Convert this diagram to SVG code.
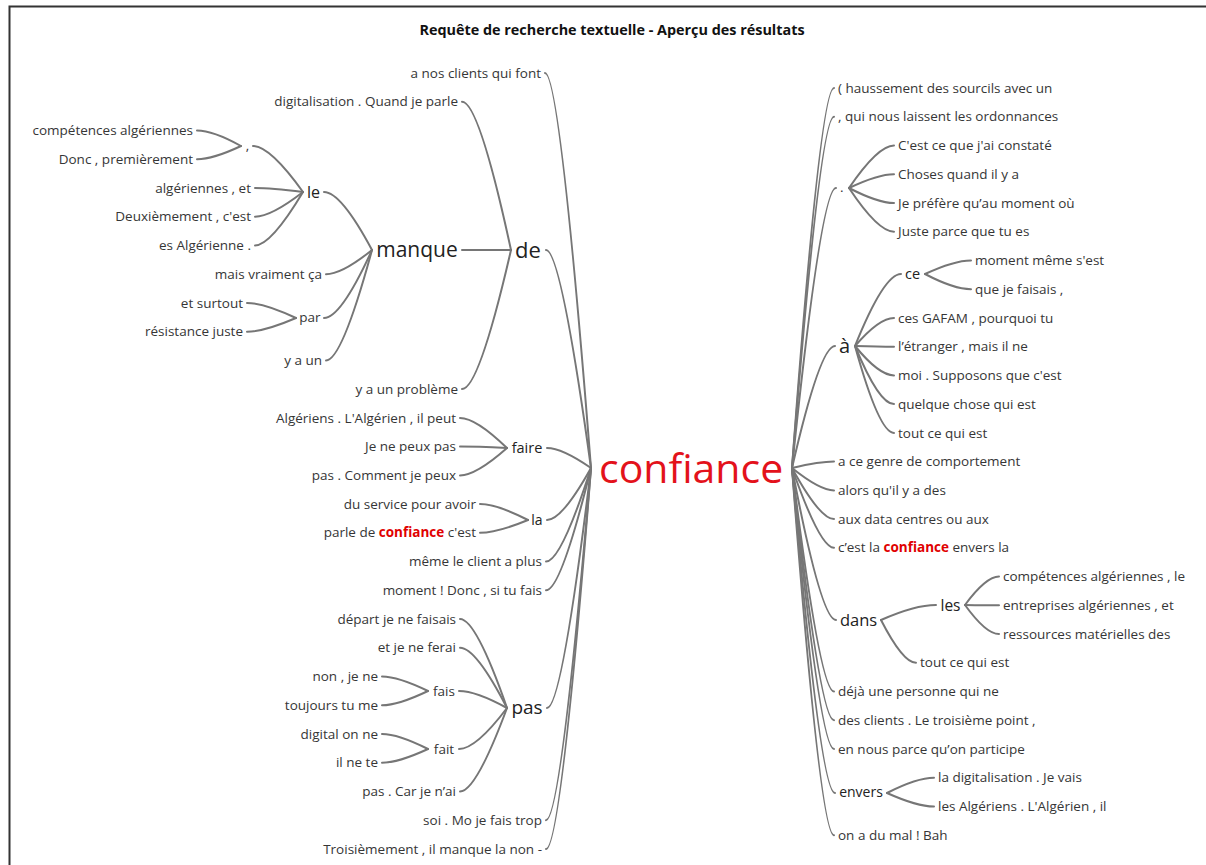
<svg xmlns="http://www.w3.org/2000/svg" width="1206" height="865" viewBox="0 0 1206 865">
<style>
text{font-family:"Open Sans","Noto Sans","Liberation Sans",sans-serif;fill:#363636}
.t{font-size:13.5px}
.e{text-anchor:end}
.m{text-anchor:middle}
.hl{fill:#e00000;font-weight:bold}
.n{fill:#222}
.root{fill:#e3121b;font-size:41px}
.title{font-size:14.4px;font-weight:bold;fill:#111;text-anchor:middle}
#connectors path{fill:none;stroke:#767676;stroke-width:2;stroke-linecap:round}
</style>
<rect width="1206" height="865" fill="#fff"/>
<path d="M9.5,865 V6.5 H1206" fill="none" stroke="#333" stroke-width="2"/>
<text class="title" x="612" y="35">Requête de recherche textuelle - Aperçu des résultats</text>
<g id="connectors">
<path d="M545,73 Q560,73 591,468"/>
<path d="M546,250 Q561,250 591,468"/>
<path d="M547,448 Q562,448 591,468"/>
<path d="M547,520 Q562,520 591,468"/>
<path d="M546,561.6 Q561,561.6 591,468"/>
<path d="M546,590.3 Q561,590.3 591,468"/>
<path d="M547,708 Q562,708 591,468"/>
<path d="M546,820.2 Q561,820.2 591,468"/>
<path d="M546,849 Q561,849 591,468"/>
<path d="M462,101.7 Q479,101.7 511,250"/>
<path d="M462,250 L511,250"/>
<path d="M462,389.1 Q479,389.1 511,250"/>
<path d="M324,192 Q341,192 372,250"/>
<path d="M326,274.2 Q342,274.2 372,250"/>
<path d="M324,318 Q341,318 372,250"/>
<path d="M326,360.4 Q342,360.4 372,250"/>
<path d="M253,146 Q270,146 303,192"/>
<path d="M255,188 Q271,188 303,192"/>
<path d="M255,216.7 Q271,216.7 303,192"/>
<path d="M255,245.4 Q271,245.4 303,192"/>
<path d="M197,130.5 Q213,130.5 241,146"/>
<path d="M197,159.2 Q213,159.2 241,146"/>
<path d="M247,302.9 Q264,302.9 296,318"/>
<path d="M247,331.7 Q264,331.7 296,318"/>
<path d="M460,417.9 Q476,417.9 507,448"/>
<path d="M460,446.6 Q476,446.6 507,448"/>
<path d="M460,475.4 Q476,475.4 507,448"/>
<path d="M480,504.1 Q497,504.1 528,520"/>
<path d="M480,532.8 Q497,532.8 528,520"/>
<path d="M460,619.1 Q476,619.1 507,708"/>
<path d="M460,647.8 Q476,647.8 507,708"/>
<path d="M459,691 Q476,691 507,708"/>
<path d="M459,749 Q476,749 507,708"/>
<path d="M460,791.5 Q476,791.5 507,708"/>
<path d="M382,676.5 Q398,676.5 428,691"/>
<path d="M382,705.3 Q398,705.3 428,691"/>
<path d="M382,734 Q398,734 428,749"/>
<path d="M382,762.8 Q398,762.8 428,749"/>
<path d="M834,88 Q820,88 792,468"/>
<path d="M834,116.7 Q820,116.7 792,468"/>
<path d="M836,188 Q821,188 792,468"/>
<path d="M835,346 Q820,346 792,468"/>
<path d="M834,461.6 Q820,461.6 792,468"/>
<path d="M834,490.4 Q820,490.4 792,468"/>
<path d="M834,519.1 Q820,519.1 792,468"/>
<path d="M834,547.8 Q820,547.8 792,468"/>
<path d="M836,620 Q821,620 792,468"/>
<path d="M834,691.5 Q820,691.5 792,468"/>
<path d="M834,720.3 Q820,720.3 792,468"/>
<path d="M834,749 Q820,749 792,468"/>
<path d="M835,793 Q820,793 792,468"/>
<path d="M834,835.2 Q820,835.2 792,468"/>
<path d="M894,145.5 Q878,145.5 849,188"/>
<path d="M894,174.2 Q878,174.2 849,188"/>
<path d="M894,203 Q878,203 849,188"/>
<path d="M894,231.7 Q878,231.7 849,188"/>
<path d="M901,274 Q884,274 855,346"/>
<path d="M894,317.9 Q879,317.9 855,346"/>
<path d="M894,346.7 Q879,346.7 855,346"/>
<path d="M894,375.4 Q879,375.4 855,346"/>
<path d="M894,404.1 Q879,404.1 855,346"/>
<path d="M894,432.9 Q879,432.9 855,346"/>
<path d="M971,260.4 Q954,260.4 925,274"/>
<path d="M971,289.2 Q954,289.2 925,274"/>
<path d="M936,605 Q915,605 881,620"/>
<path d="M916,662.8 Q903,662.8 881,620"/>
<path d="M999,576.6 Q986,576.6 965,605"/>
<path d="M999,605.3 Q986,605.3 965,605"/>
<path d="M999,634.1 Q986,634.1 965,605"/>
<path d="M934,777.8 Q917,777.8 887,793"/>
<path d="M934,806.5 Q917,806.5 887,793"/>
</g>
<g id="n-confiance"><text class="root" x="599" y="483">confiance</text></g>
<g id="n-de"><text class="n m" x="528" y="258" font-size="22">de</text></g>
<g id="n-manque"><text class="n m" x="417" y="257" font-size="21">manque</text></g>
<g id="n-le"><text class="n m" x="313.5" y="198" font-size="16">le</text></g>
<g id="n-comma"><text class="t m" x="247.5" y="150">,</text></g>
<g id="n-par"><text class="t m" x="310" y="322">par</text></g>
<g id="n-faire"><text class="n m" x="527" y="453" font-size="14.5">faire</text></g>
<g id="n-la"><text class="n m" x="537" y="525" font-size="14">la</text></g>
<g id="n-pas"><text class="n m" x="527" y="714" font-size="19">pas</text></g>
<g id="n-fais"><text class="t m" x="444" y="696">fais</text></g>
<g id="n-fait"><text class="t m" x="444" y="754">fait</text></g>
<g id="n-dot"><text class="t" x="840" y="192">.</text></g>
<g id="n-a"><text class="n m" x="844.5" y="353" font-size="20">à</text></g>
<g id="n-ce"><text class="n m" x="912.5" y="279" font-size="14.5">ce</text></g>
<g id="n-dans"><text class="n m" x="858.5" y="626" font-size="16.5">dans</text></g>
<g id="n-les"><text class="n m" x="950.5" y="611" font-size="15.5">les</text></g>
<g id="n-envers"><text class="n m" x="861" y="797" font-size="14">envers</text></g>
<g id="left-leaves">
<g id="l0"><text class="t e" x="541" y="77.6">a nos clients qui font</text></g>
<g id="l1"><text class="t e" x="458" y="106.3">digitalisation . Quand je parle</text></g>
<g id="l2"><text class="t e" x="193" y="135.1">compétences algériennes</text></g>
<g id="l3"><text class="t e" x="193" y="163.8">Donc , premièrement</text></g>
<g id="l4"><text class="t e" x="251" y="192.6">algériennes , et</text></g>
<g id="l5"><text class="t e" x="251" y="221.3">Deuxièmement , c'est</text></g>
<g id="l6"><text class="t e" x="251" y="250">es Algérienne .</text></g>
<g id="l7"><text class="t e" x="322" y="278.8">mais vraiment ça</text></g>
<g id="l8"><text class="t e" x="243" y="307.5">et surtout</text></g>
<g id="l9"><text class="t e" x="243" y="336.3">résistance juste</text></g>
<g id="l10"><text class="t e" x="322" y="365">y a un</text></g>
<g id="l11"><text class="t e" x="458" y="393.7">y a un problème</text></g>
<g id="l12"><text class="t e" x="456" y="422.5">Algériens . L'Algérien , il peut</text></g>
<g id="l13"><text class="t e" x="456" y="451.2">Je ne peux pas</text></g>
<g id="l14"><text class="t e" x="456" y="480">pas . Comment je peux</text></g>
<g id="l15"><text class="t e" x="476" y="508.7">du service pour avoir</text></g>
<g id="l16"><text class="t e" x="476" y="537.4">parle de <tspan class="hl">confiance</tspan> c'est</text></g>
<g id="l17"><text class="t e" x="542" y="566.2">même le client a plus</text></g>
<g id="l18"><text class="t e" x="542" y="594.9">moment ! Donc , si tu fais</text></g>
<g id="l19"><text class="t e" x="456" y="623.7">départ je ne faisais</text></g>
<g id="l20"><text class="t e" x="456" y="652.4">et je ne ferai</text></g>
<g id="l21"><text class="t e" x="378" y="681.1">non , je ne</text></g>
<g id="l22"><text class="t e" x="378" y="709.9">toujours tu me</text></g>
<g id="l23"><text class="t e" x="378" y="738.6">digital on ne</text></g>
<g id="l24"><text class="t e" x="378" y="767.4">il ne te</text></g>
<g id="l25"><text class="t e" x="456" y="796.1">pas . Car je n’ai</text></g>
<g id="l26"><text class="t e" x="542" y="824.8">soi . Mo je fais trop</text></g>
<g id="l27"><text class="t e" x="542" y="853.6">Troisièmement , il manque la non -</text></g>
</g>
<g id="right-leaves">
<g id="r0"><text class="t" x="838" y="92.6">( haussement des sourcils avec un</text></g>
<g id="r1"><text class="t" x="838" y="121.3">, qui nous laissent les ordonnances</text></g>
<g id="r2"><text class="t" x="898" y="150.1">C'est ce que j'ai constaté</text></g>
<g id="r3"><text class="t" x="898" y="178.8">Choses quand il y a</text></g>
<g id="r4"><text class="t" x="898" y="207.6">Je préfère qu’au moment où</text></g>
<g id="r5"><text class="t" x="898" y="236.3">Juste parce que tu es</text></g>
<g id="r6"><text class="t" x="975" y="265">moment même s'est</text></g>
<g id="r7"><text class="t" x="975" y="293.8">que je faisais ,</text></g>
<g id="r8"><text class="t" x="898" y="322.5">ces GAFAM , pourquoi tu</text></g>
<g id="r9"><text class="t" x="898" y="351.3">l’étranger , mais il ne</text></g>
<g id="r10"><text class="t" x="898" y="380">moi . Supposons que c'est</text></g>
<g id="r11"><text class="t" x="898" y="408.7">quelque chose qui est</text></g>
<g id="r12"><text class="t" x="898" y="437.5">tout ce qui est</text></g>
<g id="r13"><text class="t" x="838" y="466.2">a ce genre de comportement</text></g>
<g id="r14"><text class="t" x="838" y="495">alors qu'il y a des</text></g>
<g id="r15"><text class="t" x="838" y="523.7">aux data centres ou aux</text></g>
<g id="r16"><text class="t" x="838" y="552.4">c’est la <tspan class="hl">confiance</tspan> envers la</text></g>
<g id="r17"><text class="t" x="1003" y="581.2">compétences algériennes , le</text></g>
<g id="r18"><text class="t" x="1003" y="609.9">entreprises algériennes , et</text></g>
<g id="r19"><text class="t" x="1003" y="638.7">ressources matérielles des</text></g>
<g id="r20"><text class="t" x="920" y="667.4">tout ce qui est</text></g>
<g id="r21"><text class="t" x="838" y="696.1">déjà une personne qui ne</text></g>
<g id="r22"><text class="t" x="838" y="724.9">des clients . Le troisième point ,</text></g>
<g id="r23"><text class="t" x="838" y="753.6">en nous parce qu’on participe</text></g>
<g id="r24"><text class="t" x="938" y="782.4">la digitalisation . Je vais</text></g>
<g id="r25"><text class="t" x="938" y="811.1">les Algériens . L'Algérien , il</text></g>
<g id="r26"><text class="t" x="838" y="839.8">on a du mal ! Bah</text></g>
</g>
</svg>
